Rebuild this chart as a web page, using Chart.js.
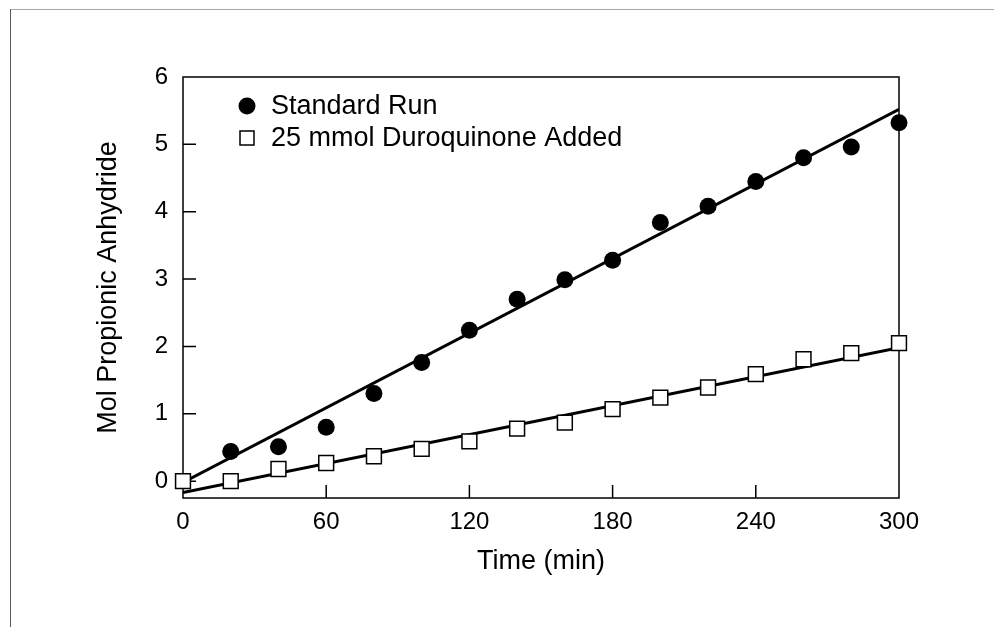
<!DOCTYPE html>
<html><head><meta charset="utf-8">
<script src="https://cdn.jsdelivr.net/npm/chart.js@4.4.0/dist/chart.umd.min.js"></script>
<style>html,body{margin:0;padding:0;background:#fff;overflow:hidden}</style>
</head><body>
<canvas id="c" width="994" height="627" style="display:block;width:994px;height:627px"></canvas>
<script>
// ---- data ----
const seriesNames = ['Standard Run', '25 mmol Duroquinone Added'];
const timeStandard = [20, 40, 60, 80, 100, 120, 140, 160, 180, 200, 220, 240, 260, 280, 300];
const molStandard  = [0.44, 0.51, 0.80, 1.30, 1.76, 2.24, 2.70, 2.99, 3.28, 3.84, 4.08, 4.45, 4.80, 4.96, 5.32];
const timeDuro = [0, 20, 40, 60, 80, 100, 120, 140, 160, 180, 200, 220, 240, 260, 280, 300];
const molDuro  = [0.00, 0.00, 0.18, 0.27, 0.37, 0.48, 0.59, 0.78, 0.87, 1.07, 1.24, 1.39, 1.59, 1.81, 1.90, 2.05];
const fitTimes    = [0, 300];
const fitStandard = [-0.02, 5.52];
const fitDuro     = [-0.17, 1.98];
const xTicks = [0, 60, 120, 180, 240, 300];
const yTicks = [0, 1, 2, 3, 4, 5, 6];
const xTitle = 'Time (min)';
const yTitle = 'Mol Propionic Anhydride';

const FONT = '"Liberation Sans", Arial, Helvetica, sans-serif';
const pts = (xs, ys) => xs.map((x, i) => ({x: x, y: ys[i]}));

const framePlugin = {
  id: 'frame',
  beforeDraw(chart) {
    const ctx = chart.ctx;
    ctx.save();
    ctx.fillStyle = '#fff';
    ctx.fillRect(0, 0, chart.width, chart.height);
    ctx.lineWidth = 1;
    ctx.strokeStyle = '#a8a8a8';
    ctx.beginPath(); ctx.moveTo(10, 9.5); ctx.lineTo(chart.width, 9.5); ctx.stroke();
    ctx.strokeStyle = '#5a5a5a';
    ctx.beginPath(); ctx.moveTo(10.5, 9); ctx.lineTo(10.5, chart.height); ctx.stroke();
    ctx.restore();
  },
  beforeDatasetsDraw(chart) {
    const ctx = chart.ctx, a = chart.chartArea;
    const xs = chart.scales.x, ys = chart.scales.y;
    ctx.save();
    ctx.strokeStyle = '#000';
    ctx.lineWidth = 1.5;
    ctx.strokeRect(a.left, a.top, a.right - a.left, a.bottom - a.top);
    ctx.beginPath();
    xs.ticks.forEach(t => {
      const px = xs.getPixelForValue(t.value);
      if (px > a.left + 2 && px < a.right - 2) { ctx.moveTo(px, a.bottom); ctx.lineTo(px, a.bottom - 13); }
    });
    ys.ticks.forEach(t => {
      const py = ys.getPixelForValue(t.value);
      if (py > a.top + 2 && py < a.bottom - 2) { ctx.moveTo(a.left, py); ctx.lineTo(a.left + 13, py); }
    });
    ctx.stroke();
    ctx.restore();
  },
  afterDraw(chart) {
    const ctx = chart.ctx, a = chart.chartArea;
    const lx = a.left + 64, ty = a.top + 29, gap = 32;
    ctx.save();
    ctx.font = '27px ' + FONT;
    ctx.fillStyle = '#000';
    ctx.textBaseline = 'middle';
    ctx.textAlign = 'left';
    ctx.beginPath(); ctx.arc(lx, ty, 8.5, 0, Math.PI * 2); ctx.fill();
    ctx.fillText(seriesNames[0], lx + 24, ty + 1);
    ctx.fillStyle = '#fff'; ctx.strokeStyle = '#000'; ctx.lineWidth = 1.5;
    ctx.fillRect(lx - 7, ty + gap - 7, 14, 14); ctx.strokeRect(lx - 7, ty + gap - 7, 14, 14);
    ctx.fillStyle = '#000';
    ctx.fillText(seriesNames[1], lx + 24, ty + gap + 1);
    ctx.restore();
  }
};

new Chart(document.getElementById('c'), {
  type: 'scatter',
  data: {
    datasets: [
      { label: seriesNames[1], data: pts(timeDuro, molDuro), pointStyle: 'rect', pointRadius: 10.5, pointHoverRadius: 10.5,
        backgroundColor: '#fff', borderColor: '#000', borderWidth: 1.5, showLine: false, clip: false },
      { label: seriesNames[0], data: pts(timeStandard, molStandard), pointStyle: 'circle', pointRadius: 8.5, pointHoverRadius: 8.5,
        backgroundColor: '#000', borderColor: '#000', borderWidth: 0, showLine: false, clip: false },
      { label: 'fit1', data: pts(fitTimes, fitStandard), showLine: true, pointRadius: 0, borderColor: '#000', borderWidth: 3, fill: false },
      { label: 'fit2', data: pts(fitTimes, fitDuro), showLine: true, pointRadius: 0, borderColor: '#000', borderWidth: 3, fill: false }
    ]
  },
  options: {
    responsive: false,
    animation: false,
    devicePixelRatio: 1,
    layout: { padding: { top: 77, right: 95, left: 0, bottom: 0 } },
    plugins: { legend: { display: false }, tooltip: { enabled: false } },
    scales: {
      x: {
        type: 'linear', min: 0, max: 300,
        afterBuildTicks: s => { s.ticks = xTicks.map(v => ({value: v})); },
        afterFit: s => { s.height = 129; },
        grid: { display: false, drawTicks: false }, border: { display: false },
        ticks: { color: '#000', font: { family: FONT, size: 24 }, padding: 10, maxRotation: 0, autoSkip: false },
        title: { display: true, text: xTitle, color: '#000', font: { family: FONT, size: 27 }, padding: { top: 0, bottom: 49 } }
      },
      y: {
        type: 'linear', min: -0.25, max: 6,
        afterBuildTicks: s => { s.ticks = yTicks.map(v => ({value: v})); },
        afterFit: s => { s.width = 183; },
        grid: { display: false, drawTicks: false }, border: { display: false },
        ticks: { color: '#000', font: { family: FONT, size: 24 }, padding: 15, autoSkip: false },
        title: { display: true, text: yTitle, color: '#000', font: { family: FONT, size: 27 }, padding: { top: 92, bottom: 0 } }
      }
    }
  },
  plugins: [framePlugin]
});
</script>
</body></html>
